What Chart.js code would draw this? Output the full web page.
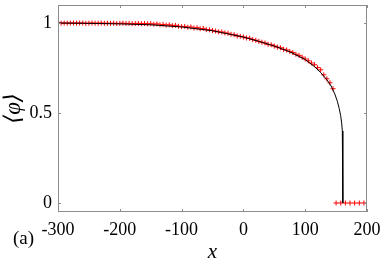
<!DOCTYPE html>
<html>
<head>
<meta charset="utf-8">
<script src="https://cdn.jsdelivr.net/npm/chart.js@4.4.1/dist/chart.umd.min.js"></script>
<style>
  html, body { margin: 0; padding: 0; background: #fff; }
  #wrap { position: relative; width: 382px; height: 262px; }
</style>
</head>
<body>
<div id="wrap"><canvas id="chart" width="382" height="262"></canvas></div>
<script>
// axis ticks
const xTicks = [-300, -200, -100, 0, 100, 200];
const yTicks = [0, 0.5, 1];

// simulation (red +)
const simX = [
  -300, -295, -290, -285, -280, -275, -270, -265, -260, -255,
  -250, -245, -240, -235, -230, -225, -220, -215, -210, -205,
  -200, -195, -190, -185, -180, -175, -170, -165, -160, -155,
  -150, -145, -140, -135, -130, -125, -120, -115, -110, -105,
  -100, -95, -90, -85, -80, -75, -70, -65, -60, -55,
  -50, -45, -40, -35, -30, -25, -20, -15, -10, -5,
  0, 5, 10, 15, 20, 25, 30, 35, 40, 45,
  50, 55, 60, 65, 70, 75, 80, 85, 90, 95,
  100, 105, 110, 115, 120, 125, 130, 135, 140, 145
];
const simY = [
  1.000, 0.999, 1.000, 0.999, 1.000, 1.000, 0.999, 1.000, 1.000, 0.998,
  0.999, 1.000, 0.999, 0.999, 1.000, 0.998, 0.999, 0.998, 0.999, 0.997,
  0.998, 0.999, 0.997, 0.998, 0.996, 0.997, 0.998, 0.996, 0.997, 0.995,
  0.996, 0.993, 0.995, 0.990, 0.992, 0.988, 0.990, 0.985, 0.987, 0.982,
  0.980, 0.981, 0.976, 0.978, 0.972, 0.974, 0.968, 0.970, 0.963, 0.962,
  0.958, 0.955, 0.951, 0.950, 0.945, 0.943, 0.937, 0.935, 0.928, 0.926,
  0.922, 0.917, 0.915, 0.908, 0.904, 0.898, 0.893, 0.889, 0.881, 0.879,
  0.872, 0.866, 0.862, 0.854, 0.850, 0.842, 0.836, 0.826, 0.820, 0.810,
  0.800, 0.790, 0.778, 0.768, 0.752, 0.740, 0.712, 0.690, 0.668, 0.635
];
const zeroX = [150, 157.5, 165, 172.5, 180, 187.5, 195];
const zeroY = [0, 0, 0, 0, 0, 0, 0];

// theory (black line)
const theoryX = [-300, -250, -200, -150, -100, -50, 0, 25, 50, 75, 100, 115, 125, 135, 142, 148, 152, 155, 157.3, 159, 160.1, 160.7, 161, 161];
const theoryY = [1.000, 0.998, 0.995, 0.990, 0.978, 0.957, 0.922, 0.898, 0.872, 0.840, 0.797, 0.758, 0.725, 0.685, 0.650, 0.605, 0.565, 0.525, 0.487, 0.445, 0.400, 0.300, 0.120, 0];

const toPoints = (xs, ys) => xs.map((x, i) => ({ x: x, y: ys[i] }));

const SERIF = '"Liberation Serif", "DejaVu Serif", serif';

// MATLAB-style box with inward ticks, plus panel label
const boxTicks = {
    id: 'boxTicks',
    afterDatasetsDraw(chart) {
        const { ctx, chartArea: a, scales } = chart;
        ctx.save();
        ctx.strokeStyle = '#8c8c8c';
        ctx.lineWidth = 1;
        ctx.strokeRect(a.left + 0.5, a.top + 0.5, a.right - a.left - 1, a.bottom - a.top - 1);
        ctx.beginPath();
        xTicks.forEach(v => {
            const px = Math.round(scales.x.getPixelForValue(v)) + 0.5;
            ctx.moveTo(px, a.bottom); ctx.lineTo(px, a.bottom - 3);
            ctx.moveTo(px, a.top); ctx.lineTo(px, a.top + 3);
        });
        yTicks.forEach(v => {
            const py = Math.round(scales.y.getPixelForValue(v)) + 0.5;
            ctx.moveTo(a.left, py); ctx.lineTo(a.left + 3, py);
            ctx.moveTo(a.right, py); ctx.lineTo(a.right - 3, py);
        });
        ctx.stroke();
        ctx.fillStyle = '#000';
        ctx.font = '19px ' + SERIF;
        ctx.textBaseline = 'alphabetic';
        ctx.fillText('(a)', 13, 244);
        ctx.restore();
    }
};

new Chart(document.getElementById('chart'), {
    type: 'scatter',
    data: {
        datasets: [{
            label: 'theory',
            data: toPoints(theoryX, theoryY),
            showLine: true,
            borderColor: '#000',
            borderWidth: 1,
            pointRadius: 0,
            order: 0
        }, {
            label: 'simulation',
            data: toPoints(simX, simY),
            pointStyle: 'cross',
            pointRadius: 2.5,
            borderColor: '#ff0000',
            borderWidth: 1,
            order: 1
        }, {
            label: 'simulation zero',
            data: toPoints(zeroX, zeroY),
            pointStyle: 'cross',
            pointRadius: 2.5,
            borderColor: '#ff0000',
            borderWidth: 1,
            order: 1
        }]
    },
    options: {
        responsive: false,
        animation: false,
        layout: { padding: { left: 0, right: 15, top: 1, bottom: 0 } },
        plugins: { legend: { display: false }, tooltip: { enabled: false } },
        scales: {
            x: {
                type: 'linear',
                min: -300,
                max: 200,
                afterBuildTicks: s => { s.ticks = xTicks.map(v => ({ value: v })); },
                afterFit: s => { s.height = 50; s.paddingLeft = 0; s.paddingRight = 0; },
                grid: { display: false, drawTicks: false },
                border: { display: false },
                ticks: { color: '#000', padding: 7, font: { family: SERIF, size: 18 }, callback: v => String(v) },
                title: {
                    display: true,
                    text: 'x',
                    color: '#000',
                    padding: { top: 0, bottom: -3 },
                    font: { family: SERIF, size: 21, style: 'italic' }
                }
            },
            y: {
                type: 'linear',
                min: -0.05,
                max: 1.1,
                afterBuildTicks: s => { s.ticks = yTicks.map(v => ({ value: v })); },
                afterFit: s => { s.width = 58; s.paddingTop = 0; s.paddingBottom = 0; },
                grid: { display: false, drawTicks: false },
                border: { display: false },
                ticks: { color: '#000', padding: 6, font: { family: SERIF, size: 18 }, callback: v => String(v) },
                title: {
                    display: true,
                    text: '\u27E8\u03C6\u27E9',
                    color: '#000',
                    padding: { top: 0, bottom: 0 },
                    font: { family: SERIF, size: 23, style: 'italic' }
                }
            }
        }
    },
    plugins: [boxTicks]
});
</script>
</body>
</html>
